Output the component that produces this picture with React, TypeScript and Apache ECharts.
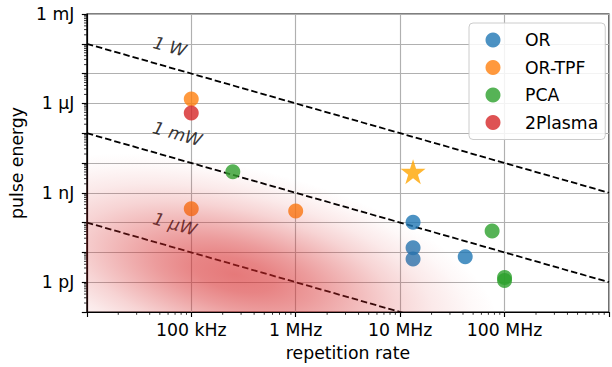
import React, { useEffect, useRef } from 'react';
import * as echarts from 'echarts';

// ---------- data ----------
const seriesNames = ['OR', 'OR-TPF', 'PCA', '2Plasma'];
const seriesColors = ['#1f77b4', '#ff7f0e', '#2ca02c', '#d62728'];

const orData = [
  [1.33e7, 1.02e-10],
  [1.33e7, 1.44e-11],
  [1.33e7, 6.0e-12],
  [4.2e7, 7.2e-12],
];
const orTpfData = [
  [1e5, 1.4e-6],
  [1e5, 2.9e-10],
  [1e6, 2.45e-10],
];
const pcaData = [
  [2.5e5, 5.1e-9],
  [7.6e7, 5.2e-11],
  [1e8, 1.45e-12],
  [1e8, 1.15e-12],
];
const plasmaData = [[1e5, 4.8e-7]];
const starData = [[1.33e7, 5.1e-9]];

// constant-power lines (pulse energy = power / repetition rate)
const powerLineNames = ['1 W', '1 mW', '1 µW'];
const line1W = [[1e4, 1e-4], [1e9, 1e-9]];
const line1mW = [[1e4, 1e-7], [1e9, 1e-12]];
const line1uW = [[1e4, 1e-10], [1e9, 1e-15]];
const powerLabelPos = [[6.24e4, 8.1e-5], [7.35e4, 9.6e-8], [6.95e4, 9.0e-11]];

// shaded region centre
const shadeCenter = [[2.6e5, 1.8e-12]];

// axes
const xMin = 1e4, xMax = 1e9, yMin = 1e-13, yMax = 1e-3;
const xTickValues = [1e5, 1e6, 1e7, 1e8];
const xTickLabels = ['100 kHz', '1 MHz', '10 MHz', '100 MHz'];
const yTickValues = [1e-3, 1e-6, 1e-9, 1e-12];
const yTickLabels = ['1 mJ', '1 µJ', '1 nJ', '1 pJ'];
const xDecades = [1e4, 1e5, 1e6, 1e7, 1e8];
const yDecades = [1e-13, 1e-12, 1e-11, 1e-10, 1e-9, 1e-8, 1e-7, 1e-6, 1e-5, 1e-4];
const minorMults = [2, 3, 4, 5, 6, 7, 8, 9];

const FONT = 'DejaVu Sans';
const FS = 17.3;

function labelFor(values: number[], labels: string[], v: number) {
  const e = Math.round(Math.log10(v));
  const i = values.findIndex((t) => Math.round(Math.log10(t)) === e);
  return i >= 0 ? labels[i] : '';
}

export default function App() {
  const ref = useRef<HTMLDivElement>(null);
  useEffect(() => {
    const chart = echarts.init(ref.current!, null, { renderer: 'svg' });

    const xMinor = xDecades.flatMap((d) => minorMults.map((m) => [d * m, yMin]));
    const yMinor = yDecades.flatMap((d) => minorMults.map((m) => [xMin, d * m]));

    const scatterSeries = [orData, orTpfData, pcaData, plasmaData].map((d, i) => ({
      name: seriesNames[i],
      type: 'scatter',
      data: d,
      symbol: 'circle',
      symbolSize: 15,
      itemStyle: { color: seriesColors[i], opacity: 0.8 },
      z: 4,
    }));

    const lineSeries = [line1W, line1mW, line1uW].map((d) => ({
      type: 'line',
      data: d,
      symbol: 'none',
      silent: true,
      lineStyle: { color: '#000', width: 1.8, type: [6.5, 3] },
      z: 3,
    }));

    const axisCommon = {
      type: 'log',
      logBase: 10,
      interval: 1,
      axisLine: { show: true, lineStyle: { color: '#000', width: 1.15 } },
      axisTick: { show: true, length: 5, lineStyle: { color: '#000', width: 1.15 } },
      splitLine: { show: true, lineStyle: { color: '#b0b0b0', width: 1.15 } },
      nameLocation: 'middle',
      nameTextStyle: { color: '#000', fontSize: FS, fontFamily: FONT },
    };

    const option: any = {
      animation: false,
      grid: {
        left: 83,
        top: 14,
        width: 531,
        height: 298,
        show: true,
        borderColor: '#000',
        borderWidth: 1.15,
        backgroundColor: 'rgba(0,0,0,0)',
      },
      legend: {
        data: seriesNames,
        orient: 'vertical',
        left: 469,
        top: 23,
        padding: [8.5, 7, 8.5, 16.5],
        itemWidth: 15,
        itemHeight: 15,
        itemGap: 10.5,
        icon: 'circle',
        backgroundColor: 'rgba(255,255,255,0.85)',
        borderColor: '#cccccc',
        borderWidth: 1,
        borderRadius: 4,
        textStyle: {
          color: '#000',
          fontSize: FS,
          fontFamily: FONT,
          lineHeight: 15,
          padding: [0, 0, 0, 19.5],
        },
      },
      xAxis: {
        ...axisCommon,
        min: xMin,
        max: xMax,
        name: 'repetition rate',
        nameGap: 32,
        axisLabel: {
          color: '#000',
          fontSize: FS,
          fontFamily: FONT,
          margin: 9,
          formatter: (v: number) => labelFor(xTickValues, xTickLabels, v),
        },
      },
      yAxis: {
        ...axisCommon,
        min: yMin,
        max: yMax,
        name: 'pulse energy',
        nameGap: 55,
        axisLabel: {
          color: '#000',
          fontSize: FS,
          fontFamily: FONT,
          margin: 12.5,
          formatter: (v: number) => labelFor(yTickValues, yTickLabels, v),
        },
      },
      series: [
        ...lineSeries,
        {
          type: 'scatter',
          data: powerLabelPos,
          symbolSize: 1,
          silent: true,
          itemStyle: { color: 'rgba(0,0,0,0)' },
          label: {
            show: true,
            position: 'inside',
            rotate: -15.7,
            color: '#000',
            fontSize: FS,
            fontFamily: FONT,
            fontStyle: 'italic',
            formatter: (p: any) => powerLineNames[p.dataIndex],
          },
          z: 3,
        },
        ...scatterSeries,
        {
          type: 'scatter',
          data: starData,
          symbol:
            'path://M50,0 L61.8,35.1 L98.9,35.1 L69.1,56.8 L80.3,91.9 L50,70.2 L19.7,91.9 L30.9,56.8 L1.1,35.1 L38.2,35.1 Z',
          symbolSize: 25,
          itemStyle: { color: '#ffa500' },
          z: 4,
        },
        {
          type: 'custom',
          data: shadeCenter,
          clip: true,
          silent: true,
          z: 10,
          renderItem: (params: any, api: any) => {
            const p = api.coord([api.value(0), api.value(1)]);
            return {
              type: 'circle',
              x: p[0],
              y: p[1],
              rotation: (-13 * Math.PI) / 180,
              scaleX: 2.7,
              scaleY: 1.08,
              shape: { cx: 0, cy: 0, r: 100 },
              style: {
                fill: new echarts.graphic.RadialGradient(0.5, 0.5, 0.5, [
                  { offset: 0, color: 'rgba(214,39,40,0.62)' },
                  { offset: 0.15, color: 'rgba(214,39,40,0.57)' },
                  { offset: 0.3, color: 'rgba(214,39,40,0.46)' },
                  { offset: 0.45, color: 'rgba(214,39,40,0.33)' },
                  { offset: 0.6, color: 'rgba(214,39,40,0.2)' },
                  { offset: 0.75, color: 'rgba(214,39,40,0.1)' },
                  { offset: 0.9, color: 'rgba(214,39,40,0.03)' },
                  { offset: 1, color: 'rgba(214,39,40,0)' },
                ]),
              },
            };
          },
        },
        {
          type: 'custom',
          data: xMinor,
          clip: false,
          silent: true,
          z: 6,
          renderItem: (params: any, api: any) => {
            const cs = params.coordSys;
            const px = api.coord([api.value(0), yMin])[0];
            const yb = cs.y + cs.height;
            return {
              type: 'line',
              shape: { x1: px, y1: yb, x2: px, y2: yb + 2.8 },
              style: { stroke: '#000', lineWidth: 0.8 },
            };
          },
        },
        {
          type: 'custom',
          data: yMinor,
          clip: false,
          silent: true,
          z: 6,
          renderItem: (params: any, api: any) => {
            const cs = params.coordSys;
            const py = api.coord([xMin, api.value(1)])[1];
            return {
              type: 'line',
              shape: { x1: cs.x, y1: py, x2: cs.x - 2.8, y2: py },
              style: { stroke: '#000', lineWidth: 0.8 },
            };
          },
        },
      ],
    };

    chart.setOption(option);
    return () => chart.dispose();
  }, []);

  return (
    <div
      ref={ref}
      style={{ position: 'absolute', left: 0, top: 0, width: 612, height: 367 }}
    />
  );
}
